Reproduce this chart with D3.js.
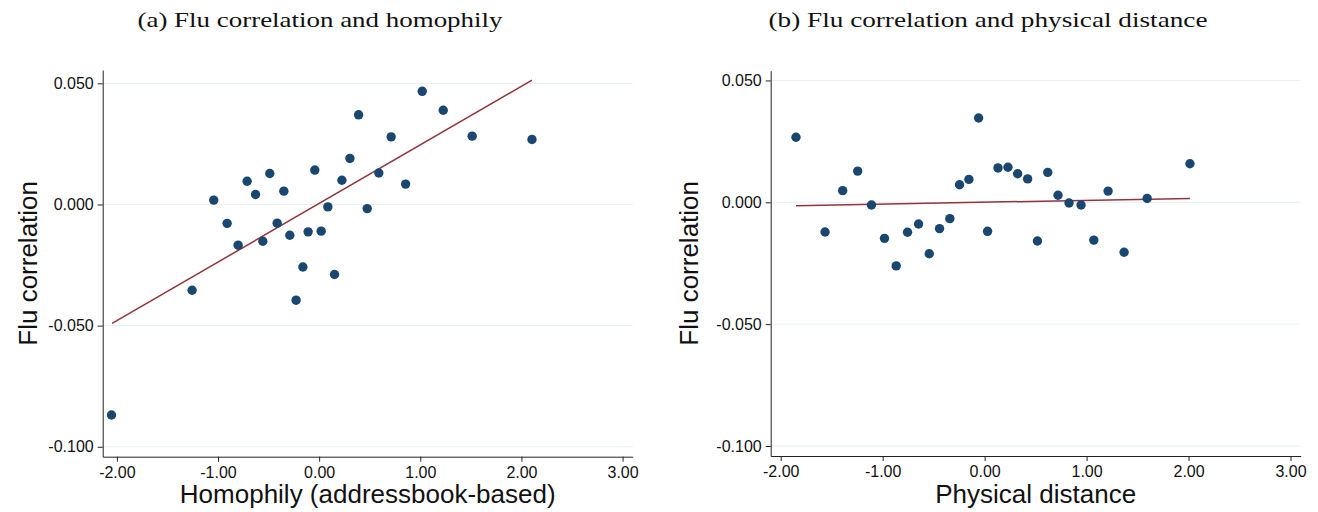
<!DOCTYPE html>
<html>
<head>
<meta charset="utf-8">
<script src="https://cdn.jsdelivr.net/npm/d3@7"></script>
<style>
  html, body { margin: 0; padding: 0; background: #fff; }
  svg { display: block; }
  .tick text { font-family: "Liberation Sans", Arial, Helvetica, sans-serif; font-size: 16px; fill: #111; }
</style>
</head>
<body>
<svg id="chart" width="1318" height="512"></svg>
<script>
// ---------- Data ----------
const titleA = "(a) Flu correlation and homophily";
const titleB = "(b) Flu correlation and physical distance";
const yLabel = "Flu correlation";
const xLabelA = "Homophily (addressbook-based)";
const xLabelB = "Physical distance";

const xTicks = [-2, -1, 0, 1, 2, 3];
const yTicks = [-0.1, -0.05, 0, 0.05];

// Panel (a): homophily vs flu correlation (binned scatter)
const homophilyX = [-2.053, -1.256, -1.042, -0.910, -0.801, -0.712, -0.629, -0.557, -0.488, -0.415,
                    -0.349, -0.290, -0.228, -0.161, -0.109, -0.043, 0.020, 0.086, 0.152, 0.225,
                    0.304, 0.390, 0.475, 0.590, 0.712, 0.855, 1.019, 1.227, 1.513, 2.104];
const homophilyY = [-0.0869, -0.0354, 0.0018, -0.0078, -0.0168, 0.0096, 0.0041, -0.0152, 0.0128, -0.0077,
                    0.0055, -0.0127, -0.0395, -0.0258, -0.0113, 0.0142, -0.0110, -0.0010, -0.0289, 0.0100,
                    0.0190, 0.0370, -0.0017, 0.0130, 0.0279, 0.0084, 0.0467, 0.0389, 0.0282, 0.0268];
const fitAX = [-2.047, 2.104];
const fitAY = [-0.0491, 0.0513];

// Panel (b): physical distance vs flu correlation
const distanceX = [-1.850, -1.565, -1.392, -1.245, -1.110, -0.982, -0.867, -0.756, -0.648, -0.543,
                   -0.442, -0.341, -0.246, -0.154, -0.059, 0.029, 0.131, 0.229, 0.324, 0.422,
                   0.518, 0.619, 0.720, 0.828, 0.946, 1.071, 1.211, 1.368, 1.594, 2.014];
const distanceY = [0.0267, -0.0122, 0.0048, 0.0128, -0.0011, -0.0148, -0.0261, -0.0123, -0.0089, -0.0211,
                   -0.0108, -0.0067, 0.0072, 0.0094, 0.0346, -0.0119, 0.0141, 0.0144, 0.0117, 0.0096,
                   -0.0159, 0.0123, 0.0029, -0.0003, -0.0011, -0.0155, 0.0046, -0.0205, 0.0016, 0.0158];
const fitBX = [-1.850, 2.014];
const fitBY = [-0.0014, 0.0016];

// ---------- Drawing ----------
const svg = d3.select("#chart");
const dotColor = "#1a476f";
const lineColor = "#90353b";
const gridColor = "#e8eff2";
const fmt = v => d3.format(".3f")(v).replace("\u2212", "-");
const fmtX = v => d3.format(".2f")(v).replace("\u2212", "-");

function panel(cfg) {
  const x = d3.scaleLinear().domain(cfg.xDomain).range([cfg.left, cfg.right]);
  const y = d3.scaleLinear().domain(cfg.yDomain).range([cfg.bottom, cfg.top]);
  const g = svg.append("g");

  // gridlines
  g.append("g").selectAll("line").data(yTicks).join("line")
    .attr("x1", cfg.left).attr("x2", cfg.right)
    .attr("y1", d => y(d)).attr("y2", d => y(d))
    .attr("stroke", gridColor).attr("stroke-width", 1);

  // y axis
  const ya = g.append("g").attr("transform", `translate(${cfg.left},0)`)
    .call(d3.axisLeft(y).tickValues(yTicks).tickFormat(fmt).tickSize(5).tickSizeOuter(0).tickPadding(4));
  ya.select(".domain").attr("stroke", "#222");
  ya.selectAll(".tick line").attr("stroke", "#222");

  // x axis
  const xa = g.append("g").attr("transform", `translate(0,${cfg.bottom})`)
    .call(d3.axisBottom(x).tickValues(xTicks).tickFormat(fmtX).tickSize(5).tickSizeOuter(0).tickPadding(5));
  xa.select(".domain").attr("stroke", "#222");
  xa.selectAll(".tick line").attr("stroke", "#222");

  // fit line
  g.append("line")
    .attr("x1", x(cfg.fitX[0])).attr("y1", y(cfg.fitY[0]))
    .attr("x2", x(cfg.fitX[1])).attr("y2", y(cfg.fitY[1]))
    .attr("stroke", lineColor).attr("stroke-width", 1.5);

  // points
  g.append("g").selectAll("circle").data(cfg.xs.map((v, i) => [v, cfg.ys[i]])).join("circle")
    .attr("cx", d => x(d[0])).attr("cy", d => y(d[1])).attr("r", 4.7)
    .attr("fill", dotColor);

  // labels
  g.append("text")
    .attr("transform", `translate(${cfg.yLabelX},${(cfg.top + cfg.bottom) / 2}) rotate(-90)`)
    .attr("text-anchor", "middle")
    .style("font-family", '"Liberation Sans", Arial, sans-serif').style("font-size", "26px").attr("fill", "#111")
    .text(yLabel);
  g.append("text")
    .attr("x", (cfg.left + cfg.right) / 2).attr("y", 503)
    .attr("text-anchor", "middle")
    .style("font-family", '"Liberation Sans", Arial, sans-serif').style("font-size", "26px").attr("fill", "#111")
    .text(cfg.xLabel);
  g.append("text")
    .attr("x", cfg.titleX).attr("y", 27)
    .attr("text-anchor", "middle")
    .attr("textLength", cfg.titleLen).attr("lengthAdjust", "spacingAndGlyphs")
    .style("font-family", '"Liberation Serif", "Times New Roman", serif').style("font-size", "21px").attr("fill", "#111")
    .text(cfg.title);
}

panel({
  left: 102.7, right: 632.7, top: 70, bottom: 456.7,
  xDomain: [-2.14, 3.10], yDomain: [-0.1041, 0.0555],
  xs: homophilyX, ys: homophilyY, fitX: fitAX, fitY: fitAY,
  xLabel: xLabelA, title: titleA, titleX: 320, titleLen: 365, yLabelX: 37
});
panel({
  left: 770.7, right: 1300.7, top: 70.7, bottom: 456,
  xDomain: [-2.098, 3.10], yDomain: [-0.1041, 0.054],
  xs: distanceX, ys: distanceY, fitX: fitBX, fitY: fitBY,
  xLabel: xLabelB, title: titleB, titleX: 988, titleLen: 439, yLabelX: 698
});
</script>
</body>
</html>
